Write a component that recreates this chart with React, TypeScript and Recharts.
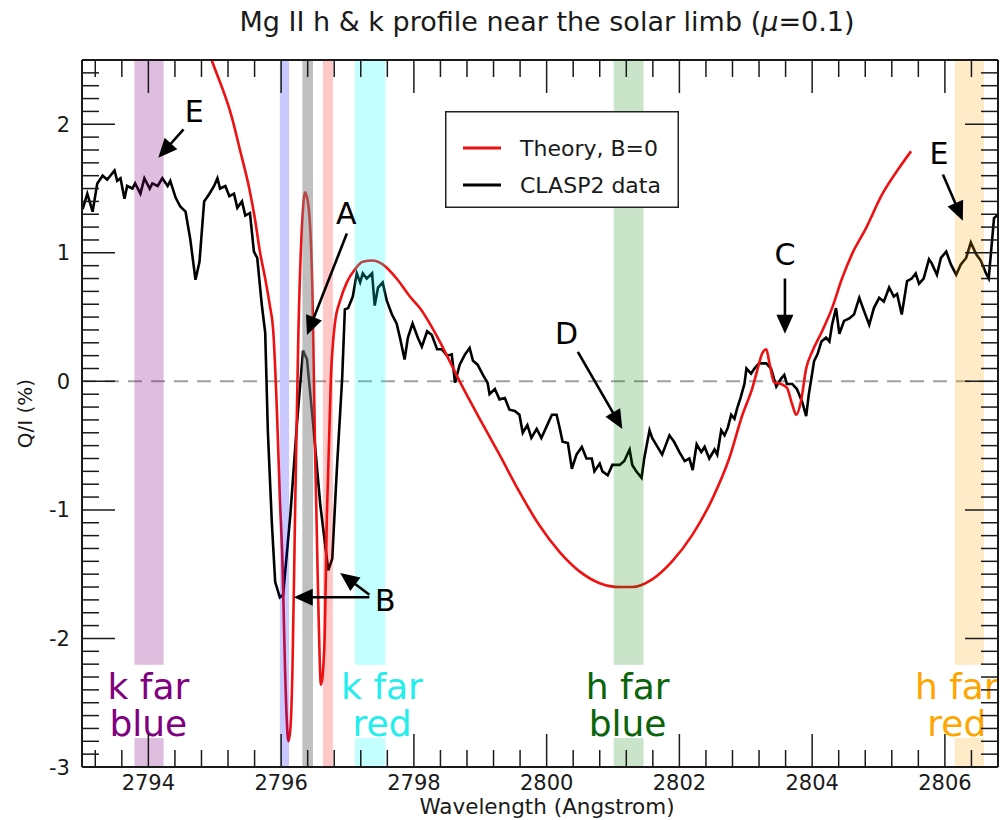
import React from 'react';
import {
  LineChart,
  Line,
  XAxis,
  YAxis,
  ReferenceArea,
  ReferenceLine,
  ReferenceDot,
  Legend,
} from 'recharts';

const FONT = '"DejaVu Sans", Verdana, sans-serif';
const INK = '#1a1a1a';

// ---------------- data ----------------
const clasp2Wavelength = [
  2793.01, 2793.08, 2793.16, 2793.23, 2793.31, 2793.38, 2793.49, 2793.53, 2793.58, 2793.64,
  2793.68, 2793.76, 2793.8, 2793.88, 2793.94, 2794.02, 2794.06, 2794.14, 2794.21, 2794.29,
  2794.33, 2794.41, 2794.48, 2794.56, 2794.63, 2794.71, 2794.77, 2794.84, 2794.92, 2794.99,
  2795.04, 2795.08, 2795.16, 2795.22, 2795.29, 2795.34, 2795.41, 2795.46, 2795.53, 2795.59,
  2795.64, 2795.71, 2795.76, 2795.8, 2795.86, 2795.91, 2795.98, 2796.03, 2796.14, 2796.24,
  2796.33, 2796.39, 2796.48, 2796.59, 2796.71, 2796.77, 2796.84, 2796.92, 2796.96, 2797.01,
  2797.08, 2797.14, 2797.19, 2797.23, 2797.29, 2797.37, 2797.41, 2797.46, 2797.53, 2797.59,
  2797.67, 2797.74, 2797.79, 2797.86, 2797.91, 2797.98, 2798.06, 2798.12, 2798.2, 2798.27,
  2798.35, 2798.42, 2798.5, 2798.57, 2798.62, 2798.69, 2798.77, 2798.84, 2798.89, 2798.96,
  2799.04, 2799.11, 2799.14, 2799.22, 2799.29, 2799.37, 2799.44, 2799.52, 2799.59, 2799.64,
  2799.71, 2799.77, 2799.85, 2799.92, 2800.0, 2800.08, 2800.15, 2800.2, 2800.24, 2800.32,
  2800.38, 2800.45, 2800.53, 2800.6, 2800.68, 2800.72, 2800.8, 2800.84, 2800.92, 2800.99,
  2801.1, 2801.17, 2801.25, 2801.29, 2801.35, 2801.43, 2801.47, 2801.55, 2801.59, 2801.67,
  2801.74, 2801.85, 2801.92, 2802.0, 2802.08, 2802.15, 2802.2, 2802.26, 2802.33, 2802.38,
  2802.45, 2802.53, 2802.57, 2802.63, 2802.68, 2802.73, 2802.78, 2802.83, 2802.87, 2802.92,
  2802.98, 2803.01, 2803.08, 2803.13, 2803.2, 2803.31, 2803.38, 2803.46, 2803.53, 2803.58,
  2803.62, 2803.7, 2803.77, 2803.85, 2803.91, 2803.95, 2804.03, 2804.08, 2804.14, 2804.21,
  2804.26, 2804.3, 2804.36, 2804.41, 2804.48, 2804.56, 2804.63, 2804.71, 2804.78, 2804.86,
  2804.93, 2805.01, 2805.08, 2805.16, 2805.23, 2805.28, 2805.35, 2805.43, 2805.5, 2805.56,
  2805.61, 2805.68, 2805.76, 2805.8, 2805.88, 2805.94, 2806.02, 2806.09, 2806.17, 2806.24,
  2806.32, 2806.39, 2806.47, 2806.54, 2806.62, 2806.66, 2806.74, 2806.81,
];
const clasp2QI = [
  1.34, 1.46, 1.32, 1.54, 1.6, 1.57, 1.64, 1.56, 1.58, 1.42,
  1.52, 1.5, 1.54, 1.46, 1.58, 1.5, 1.54, 1.52, 1.58, 1.52,
  1.56, 1.43, 1.36, 1.32, 1.11, 0.79, 0.93, 1.4, 1.46, 1.52,
  1.58, 1.5, 1.52, 1.44, 1.46, 1.35, 1.4, 1.29, 1.31, 1.01,
  0.96, 0.59, 0.38, -0.39, -1.1, -1.56, -1.68, -1.66, -1.03, -0.32,
  0.24, 0.17, -0.32, -0.96, -1.47, -1.38, -0.68, 0.03, 0.56, 0.57,
  0.66, 0.84, 0.77, 0.84, 0.8, 0.84, 0.59, 0.73, 0.77, 0.63,
  0.52, 0.45, 0.34, 0.17, 0.34, 0.45, 0.34, 0.27, 0.39, 0.36,
  0.25, 0.25, 0.2, 0.21, -0.01, 0.13, 0.21, 0.26, 0.16, 0.13,
  0.05, -0.01, -0.1, -0.06, -0.14, -0.13, -0.22, -0.23, -0.26, -0.4,
  -0.34, -0.44, -0.37, -0.44, -0.35, -0.26, -0.26, -0.37, -0.47, -0.48,
  -0.68, -0.57, -0.51, -0.6, -0.6, -0.7, -0.64, -0.7, -0.73, -0.65,
  -0.65, -0.62, -0.53, -0.65, -0.7, -0.75, -0.6, -0.38, -0.44, -0.51,
  -0.57, -0.42, -0.47, -0.55, -0.62, -0.6, -0.69, -0.49, -0.55, -0.51,
  -0.6, -0.53, -0.57, -0.38, -0.42, -0.36, -0.26, -0.29, -0.21, -0.13,
  -0.02, 0.1, 0.06, 0.1, 0.14, 0.14, 0.1, -0.04, 0.02, 0.05,
  -0.02, -0.02, -0.06, -0.16, -0.27, -0.1, 0.16, 0.21, 0.31, 0.34,
  0.31, 0.44, 0.57, 0.37, 0.47, 0.49, 0.52, 0.65, 0.55, 0.44,
  0.57, 0.65, 0.62, 0.73, 0.66, 0.68, 0.52, 0.78, 0.8, 0.84,
  0.76, 0.8, 0.95, 0.92, 0.83, 0.96, 1.01, 0.91, 0.83, 0.91,
  0.96, 1.08, 0.99, 0.94, 0.84, 0.8, 1.27, 1.3,
];

const theoryWavelength = [
  2794.78, 2794.96, 2795.26, 2795.38, 2795.52, 2795.61, 2795.68, 2795.76, 2795.83, 2795.88,
  2795.94, 2795.98, 2796.02, 2796.06, 2796.11, 2796.14, 2796.17, 2796.21, 2796.26, 2796.32,
  2796.36, 2796.41, 2796.47, 2796.51, 2796.56, 2796.6, 2796.65, 2796.69, 2796.75, 2796.81,
  2796.89, 2796.99, 2797.11, 2797.23, 2797.38, 2797.53, 2797.74, 2797.94, 2798.09, 2798.39,
  2798.69, 2798.99, 2799.29, 2799.59, 2799.89, 2800.2, 2800.5, 2800.8, 2801.1, 2801.29,
  2801.59, 2801.89, 2802.2, 2802.5, 2802.75, 2802.95, 2803.1, 2803.17, 2803.25, 2803.31,
  2803.35, 2803.43, 2803.53, 2803.62, 2803.7, 2803.76, 2803.83, 2803.91, 2804.0, 2804.15,
  2804.3, 2804.45, 2804.6, 2804.81, 2805.05, 2805.31, 2805.49,
];
const theoryQI = [
  2.75, 2.49, 2.05, 1.8, 1.5, 1.25, 1.01, 0.8, 0.59, 0.4,
  -0.28, -0.9, -1.4, -2.26, -2.8, -2.7, -2.26, -1.03, 0.38, 1.26,
  1.47, 1.37, 0.73, -0.5, -1.73, -2.36, -2.08, -1.03, 0.03, 0.45,
  0.63, 0.77, 0.87, 0.93, 0.94, 0.91, 0.8, 0.66, 0.57, 0.31,
  0.0, -0.29, -0.57, -0.86, -1.12, -1.33, -1.48, -1.57, -1.6, -1.6,
  -1.54, -1.4, -1.19, -0.91, -0.6, -0.26, -0.05, 0.08, 0.22, 0.25,
  0.16, -0.01, -0.02, -0.05, -0.18, -0.26, -0.16, 0.1, 0.23, 0.39,
  0.57, 0.8, 0.99, 1.19, 1.45, 1.66, 1.79,
];

const xDomain = [2793, 2806.8];
const yDomain = [-3, 2.5];
const xTickValues = [
  2793.2, 2793.6, 2794, 2794.4, 2794.8, 2795.2, 2795.6, 2796, 2796.4, 2796.8, 2797.2, 2797.6,
  2798, 2798.4, 2798.8, 2799.2, 2799.6, 2800, 2800.4, 2800.8, 2801.2, 2801.6, 2802, 2802.4,
  2802.8, 2803.2, 2803.6, 2804, 2804.4, 2804.8, 2805.2, 2805.6, 2806, 2806.4,
];
const xTickLabels = [2794, 2796, 2798, 2800, 2802, 2804, 2806];
const yTickValues = [
  -3, -2.9, -2.8, -2.7, -2.6, -2.5, -2.4, -2.3, -2.2, -2.1,
  -2, -1.9, -1.8, -1.7, -1.6, -1.5, -1.4, -1.3, -1.2, -1.1,
  -1, -0.9, -0.8, -0.7, -0.6, -0.5, -0.4, -0.3, -0.2, -0.1,
  0, 0.1, 0.2, 0.3, 0.4, 0.5, 0.6, 0.7, 0.8, 0.9,
  1, 1.1, 1.2, 1.3, 1.4, 1.5, 1.6, 1.7, 1.8, 1.9,
  2, 2.1, 2.2, 2.3, 2.4, 2.5,
];
const yTickLabels = [-3, -2, -1, 0, 1, 2];

// spectral windows (wavelength ranges)
const bandFrom = [2793.79, 2795.98, 2796.32, 2796.63, 2797.11, 2801.01, 2806.15];
const bandTo = [2794.23, 2796.12, 2796.48, 2796.78, 2797.57, 2801.46, 2806.59];
const bandColor = ['#800080', '#0000ff', '#808080', '#ff0000', '#00ffff', '#008000', '#ffa500'];
const bandOpacity = [0.26, 0.21, 0.5, 0.22, 0.23, 0.21, 0.22];

// window labels
const windowLabelLine1 = ['k far', 'k far', 'h far', 'h far'];
const windowLabelLine2 = ['blue', 'red', 'blue', 'red'];
const windowLabelCenter = [2794.0, 2797.52, 2801.22, 2806.18];
const windowLabelColor = ['#800080', '#22eeee', '#0a640a', '#ffa500'];

// annotation letters and arrows
const letterText = ['E', 'A', 'B', 'C', 'D', 'E'];
const letterX = [2794.69, 2796.98, 2797.57, 2803.59, 2800.3, 2805.91];
const letterY = [2.1, 1.31, -1.7, 0.99, 0.38, 1.78];
const arrowFromX = [2794.53, 2796.99, 2797.33, 2797.33, 2803.59, 2800.47, 2805.97];
const arrowFromY = [1.96, 1.15, -1.68, -1.66, 0.8, 0.23, 1.61];
const arrowToX = [2794.15, 2796.39, 2796.19, 2796.89, 2803.59, 2801.14, 2806.27];
const arrowToY = [1.74, 0.36, -1.68, -1.49, 0.37, -0.37, 1.25];

const legendOrder = ['Theory, B=0', 'CLASP2 data'];

// ---------------- derived tables ----------------
const clasp2Data = clasp2Wavelength.map((x, i) => ({ x, y: clasp2QI[i] }));
const theoryData = theoryWavelength.map((x, i) => ({ x, y: theoryQI[i] }));

// ---------------- rendering helpers ----------------
const MAJOR = 33;
const MINOR = 17;
const near = (a: number, b: number) => Math.abs(a - b) < 1e-6;
const isXMajor = (v: number) => xTickLabels.some((t) => near(t, v));
const isYMajor = (v: number) => yTickLabels.some((t) => near(t, v));

const BottomTick = (p: any) => {
  const { x, y, payload } = p;
  const major = isXMajor(payload.value);
  return (
    <g>
      <line x1={x} x2={x} y1={y} y2={y - (major ? MAJOR : MINOR)} stroke={INK} strokeWidth={1.5} />
      {major && (
        <text x={x} y={y + 23} textAnchor="middle" fontFamily={FONT} fontSize={21} fill={INK}>
          {payload.value}
        </text>
      )}
    </g>
  );
};
const TopTick = (p: any) => {
  const { x, y, payload } = p;
  const major = isXMajor(payload.value);
  return <line x1={x} x2={x} y1={y} y2={y + (major ? MAJOR : MINOR)} stroke={INK} strokeWidth={1.5} />;
};
const LeftTick = (p: any) => {
  const { x, y, payload } = p;
  const major = isYMajor(payload.value);
  return (
    <g>
      <line x1={x} x2={x + (major ? MAJOR : MINOR)} y1={y} y2={y} stroke={INK} strokeWidth={1.5} />
      {major && (
        <text x={x - 12} y={y + 7.5} textAnchor="end" fontFamily={FONT} fontSize={21} fill={INK}>
          {payload.value}
        </text>
      )}
    </g>
  );
};
const RightTick = (p: any) => {
  const { x, y, payload } = p;
  const major = isYMajor(payload.value);
  return <line x1={x} x2={x - (major ? MAJOR : MINOR)} y1={y} y2={y} stroke={INK} strokeWidth={1.5} />;
};

const TitleLabel = (p: any) => {
  const vb = p.viewBox || { x: 0, y: 0, width: 0 };
  return (
    <text x={vb.x + vb.width / 2 + 7} y={vb.y - 19} textAnchor="middle" fontFamily={FONT} fontSize={27} fill={INK}>
      Mg II h &amp; k profile near the solar limb (<tspan fontStyle="italic">μ</tspan>=0.1)
    </text>
  );
};
const XTitle = (p: any) => {
  const vb = p.viewBox || { x: 0, y: 0, width: 0 };
  return (
    <text x={vb.x + vb.width / 2 + 7} y={vb.y + 47} textAnchor="middle" fontFamily={FONT} fontSize={21.5} fill={INK}>
      Wavelength (Angstrom)
    </text>
  );
};
const YTitle = (p: any) => {
  const vb = p.viewBox || { x: 0, y: 0, height: 0 };
  const cx = vb.x + 25;
  const cy = vb.y + vb.height / 2;
  return (
    <text
      x={cx}
      y={cy}
      transform={`rotate(-90 ${cx} ${cy})`}
      textAnchor="middle"
      dominantBaseline="central"
      fontFamily={FONT}
      fontSize={20}
      fill={INK}
    >
      Q/I (%)
    </text>
  );
};

const Arrow = (p: any) => {
  const { x1, y1, x2, y2 } = p;
  const dx = x2 - x1;
  const dy = y2 - y1;
  const L = Math.hypot(dx, dy) || 1;
  const ux = dx / L;
  const uy = dy / L;
  const hl = 19;
  const hw = 8.5;
  const bx = x2 - ux * hl;
  const by = y2 - uy * hl;
  const pts = `${x2},${y2} ${bx - uy * hw},${by + ux * hw} ${bx + uy * hw},${by - ux * hw}`;
  return (
    <g>
      <line x1={x1} y1={y1} x2={bx + ux * 2} y2={by + uy * 2} stroke="#000" strokeWidth={2.6} />
      <polygon points={pts} fill="#000" />
    </g>
  );
};

const makeLetter = (t: string) => (p: any) => (
  <text x={p.cx} y={p.cy + 11} textAnchor="middle" fontFamily={FONT} fontSize={30} fill="#000">
    {t}
  </text>
);

const makeWindowLabel = (l1: string, l2: string, color: string) => (p: any) => {
  const { x, y, width, height } = p;
  const cx = x + width / 2;
  return (
    <g>
      <rect x={x} y={y} width={width} height={height} fill="#ffffff" />
      <text x={cx} y={y + 34} textAnchor="middle" fontFamily={FONT} fontSize={36} fill={color}>
        {l1}
      </text>
      <text x={cx} y={y + 71} textAnchor="middle" fontFamily={FONT} fontSize={36} fill={color}>
        {l2}
      </text>
    </g>
  );
};

const LegendBox = (props: any) => {
  const items = [...(props.payload || [])].sort(
    (a: any, b: any) => legendOrder.indexOf(a.value) - legendOrder.indexOf(b.value)
  );
  return (
    <svg width={234} height={97} style={{ display: 'block' }}>
      <rect x={0.75} y={0.75} width={232.5} height={95.5} fill="#ffffff" stroke="#222" strokeWidth={1.5} />
      {items.map((it: any, i: number) => (
        <g key={it.value}>
          <line x1={18} x2={56} y1={37 + i * 37} y2={37 + i * 37} stroke={it.color} strokeWidth={3} />
          <text x={75} y={37 + i * 37 + 8} fontFamily={FONT} fontSize={22} fill={INK}>
            {it.value}
          </text>
        </g>
      ))}
    </svg>
  );
};

export default function App() {
  return (
    <div style={{ position: 'absolute', left: 0, top: 0, width: 1000, height: 820, background: '#fff' }}>
      <LineChart width={1000} height={820} margin={{ top: 50, right: 0, bottom: 0, left: 0 }}>
        <XAxis
          xAxisId="b"
          type="number"
          dataKey="x"
          orientation="bottom"
          domain={xDomain}
          allowDataOverflow
          ticks={xTickValues}
          interval={0}
          height={53}
          tickSize={0}
          tickMargin={0}
          tickLine={false}
          tick={<BottomTick />}
          axisLine={{ stroke: INK, strokeWidth: 2 }}
          label={<XTitle />}
        />
        <XAxis
          xAxisId="t"
          type="number"
          dataKey="x"
          orientation="top"
          domain={xDomain}
          allowDataOverflow
          ticks={xTickValues}
          interval={0}
          height={10}
          tickSize={0}
          tickMargin={0}
          tickLine={false}
          tick={<TopTick />}
          axisLine={{ stroke: INK, strokeWidth: 2 }}
          label={<TitleLabel />}
        />
        <YAxis
          yAxisId="l"
          type="number"
          orientation="left"
          domain={yDomain}
          allowDataOverflow
          ticks={yTickValues}
          interval={0}
          width={82}
          tickSize={0}
          tickMargin={0}
          tickLine={false}
          tick={<LeftTick />}
          axisLine={{ stroke: INK, strokeWidth: 2 }}
          label={<YTitle />}
        />
        <YAxis
          yAxisId="r"
          type="number"
          orientation="right"
          domain={yDomain}
          allowDataOverflow
          ticks={yTickValues}
          interval={0}
          width={2}
          tickSize={0}
          tickMargin={0}
          tickLine={false}
          tick={<RightTick />}
          axisLine={{ stroke: INK, strokeWidth: 2 }}
        />

        <ReferenceLine xAxisId="b" yAxisId="l" y={0} stroke="#a0a0a0" strokeWidth={2} strokeDasharray="14 9" />

        <Line
          xAxisId="b"
          yAxisId="l"
          data={clasp2Data}
          dataKey="y"
          name="CLASP2 data"
          type="linear"
          stroke="#000000"
          strokeWidth={2.6}
          dot={false}
          activeDot={false}
          isAnimationActive={false}
          legendType="line"
        />
        <Line
          xAxisId="b"
          yAxisId="l"
          data={theoryData}
          dataKey="y"
          name="Theory, B=0"
          type="monotone"
          stroke="#ee1111"
          strokeWidth={2.6}
          dot={false}
          activeDot={false}
          isAnimationActive={false}
          legendType="line"
        />

        {bandFrom.map((f, i) => (
          <ReferenceArea
            key={`band-${i}`}
            xAxisId="b"
            yAxisId="l"
            x1={f}
            x2={bandTo[i]}
            fill={bandColor[i]}
            fillOpacity={bandOpacity[i]}
            stroke="none"
            ifOverflow="hidden"
            zIndex={450}
          />
        ))}

        {windowLabelCenter.map((c, i) => (
          <ReferenceArea
            key={`wl-${i}`}
            xAxisId="b"
            yAxisId="l"
            x1={c - 0.68}
            x2={c + 0.68}
            y1={-2.775}
            y2={-2.205}
            ifOverflow="hidden"
            zIndex={460}
            shape={makeWindowLabel(windowLabelLine1[i], windowLabelLine2[i], windowLabelColor[i])}
          />
        ))}

        {arrowFromX.map((fx, i) => (
          <ReferenceLine
            key={`ar-${i}`}
            xAxisId="b"
            yAxisId="l"
            segment={[
              { x: fx, y: arrowFromY[i] },
              { x: arrowToX[i], y: arrowToY[i] },
            ]}
            ifOverflow="visible"
            zIndex={470}
            shape={Arrow}
          />
        ))}

        {letterText.map((t, i) => (
          <ReferenceDot
            key={`lt-${i}`}
            xAxisId="b"
            yAxisId="l"
            x={letterX[i]}
            y={letterY[i]}
            r={1}
            ifOverflow="visible"
            zIndex={470}
            shape={makeLetter(t)}
          />
        ))}

        <Legend
          layout="vertical"
          align="center"
          verticalAlign="middle"
          width={234}
          height={97}
          wrapperStyle={{ position: 'absolute', left: 445, top: 111, width: 234, height: 97, margin: 0, padding: 0 }}
          content={<LegendBox />}
        />
      </LineChart>
    </div>
  );
}
